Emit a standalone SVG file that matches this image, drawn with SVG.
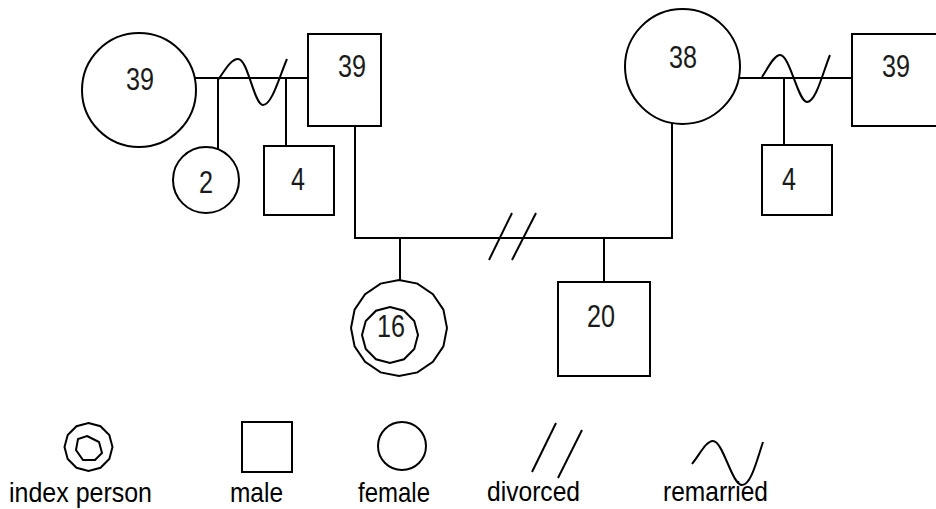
<svg xmlns="http://www.w3.org/2000/svg" width="936" height="509" viewBox="0 0 936 509">
<style>
.s{fill:#fff;stroke:#000;stroke-width:2}
.l{fill:none;stroke:#000;stroke-width:2}
.n{font-family:"Liberation Sans",Arial,sans-serif;font-size:32px;fill:#1a1a1a}
.t{font-family:"Liberation Sans",Arial,sans-serif;font-size:28px;fill:#000}
</style>
<rect width="936" height="509" fill="#fff"/>
<g id="connectors">
<line class="l" x1="195" y1="78" x2="308" y2="78"/>
<line class="l" x1="218" y1="78" x2="218" y2="149"/>
<line class="l" x1="286" y1="78" x2="286" y2="146"/>
<path class="l" d="M218,80 C225,70 231,59 238,59 C248,59 254,105 263,105 C272,105 280,75 287,59"/>
<line class="l" x1="739" y1="78" x2="852" y2="78"/>
<line class="l" x1="784" y1="78" x2="784" y2="145"/>
<path class="l" d="M762,77 C768,68 774,55 780,55 C790,55 798,102 807,102 C816,102 823,72 830,55"/>
<polyline class="l" points="355,126 355,238 672,238 672,123"/>
<line class="l" x1="400" y1="238" x2="400" y2="280"/>
<line class="l" x1="604" y1="238" x2="604" y2="282"/>
<line class="l" x1="512" y1="213" x2="489" y2="260"/>
<line class="l" x1="536" y1="213" x2="512" y2="260"/>
</g>
<g id="f39">
<circle class="s" cx="139" cy="90" r="57"/>
<text class="n" x="126" y="90" textLength="28" lengthAdjust="spacingAndGlyphs">39</text>
</g>
<g id="m39a">
<rect class="s" x="308" y="34" width="73" height="92"/>
<text class="n" x="338" y="77" textLength="28" lengthAdjust="spacingAndGlyphs">39</text>
</g>
<g id="f2">
<circle class="s" cx="206" cy="180" r="33"/>
<text class="n" x="199" y="193" textLength="14" lengthAdjust="spacingAndGlyphs">2</text>
</g>
<g id="m4a">
<rect class="s" x="264" y="146" width="70" height="69"/>
<text class="n" x="291" y="190" textLength="14" lengthAdjust="spacingAndGlyphs">4</text>
</g>
<g id="f38">
<circle class="s" cx="682.5" cy="66.5" r="57.5"/>
<text class="n" x="669" y="68" textLength="28" lengthAdjust="spacingAndGlyphs">38</text>
</g>
<g id="m39b">
<rect class="s" x="852" y="34" width="92" height="92"/>
<text class="n" x="882" y="77" textLength="28" lengthAdjust="spacingAndGlyphs">39</text>
</g>
<g id="m4b">
<rect class="s" x="762" y="145" width="70" height="70"/>
<text class="n" x="782" y="190" textLength="14" lengthAdjust="spacingAndGlyphs">4</text>
</g>
<g id="index16">
<polygon class="s" points="399,280 417.4,283.6 432.9,294.1 443.4,309.6 447,328 443.4,346.4 432.9,361.9 417.4,372.4 399,376 380.6,372.4 365.1,361.9 354.6,346.4 351,328 354.6,309.6 365.1,294.1 380.6,283.6"/>
<polygon class="s" points="390,307 404,310.75 414.25,321 418,335 414.25,349 404,359.25 390,363 376,359.25 365.75,349 362,335 365.75,321 376,310.75"/>
<text class="n" x="377" y="337" textLength="28" lengthAdjust="spacingAndGlyphs">16</text>
</g>
<g id="m20">
<rect class="s" x="558" y="282" width="92" height="94"/>
<text class="n" x="587" y="327" textLength="28" lengthAdjust="spacingAndGlyphs">20</text>
</g>
<g id="legend">
<g id="leg-index">
<polygon class="s" points="88.5,423 100.5,426.2 109.3,435 112.5,447 109.3,459 100.5,467.8 88.5,471 76.5,467.8 67.7,459 64.5,447 67.7,435 76.5,426.2"/>
<polygon class="s" points="87,436 99,442 102,453 95,460 83,460 76,450 78,439"/>
<text class="t" x="9" y="502" textLength="143" lengthAdjust="spacingAndGlyphs">index person</text>
</g>
<g id="leg-male">
<rect class="s" x="242" y="422" width="50" height="50"/>
<text class="t" x="230" y="502" textLength="53" lengthAdjust="spacingAndGlyphs">male</text>
</g>
<g id="leg-female">
<circle class="s" cx="402" cy="446" r="24"/>
<text class="t" x="358" y="502" textLength="72" lengthAdjust="spacingAndGlyphs">female</text>
</g>
<g id="leg-divorced">
<line class="l" x1="556" y1="423" x2="532" y2="472"/>
<line class="l" x1="582" y1="430" x2="558" y2="478"/>
<text class="t" x="487" y="501" textLength="93" lengthAdjust="spacingAndGlyphs">divorced</text>
</g>
<g id="leg-remarried">
<path class="l" d="M692,464 C700,454 706,441 713,441 C723,441 732,485 742,485 C751,485 757,460 763,442"/>
<text class="t" x="663" y="501" textLength="105" lengthAdjust="spacingAndGlyphs">remarried</text>
</g>
</g>
</svg>
